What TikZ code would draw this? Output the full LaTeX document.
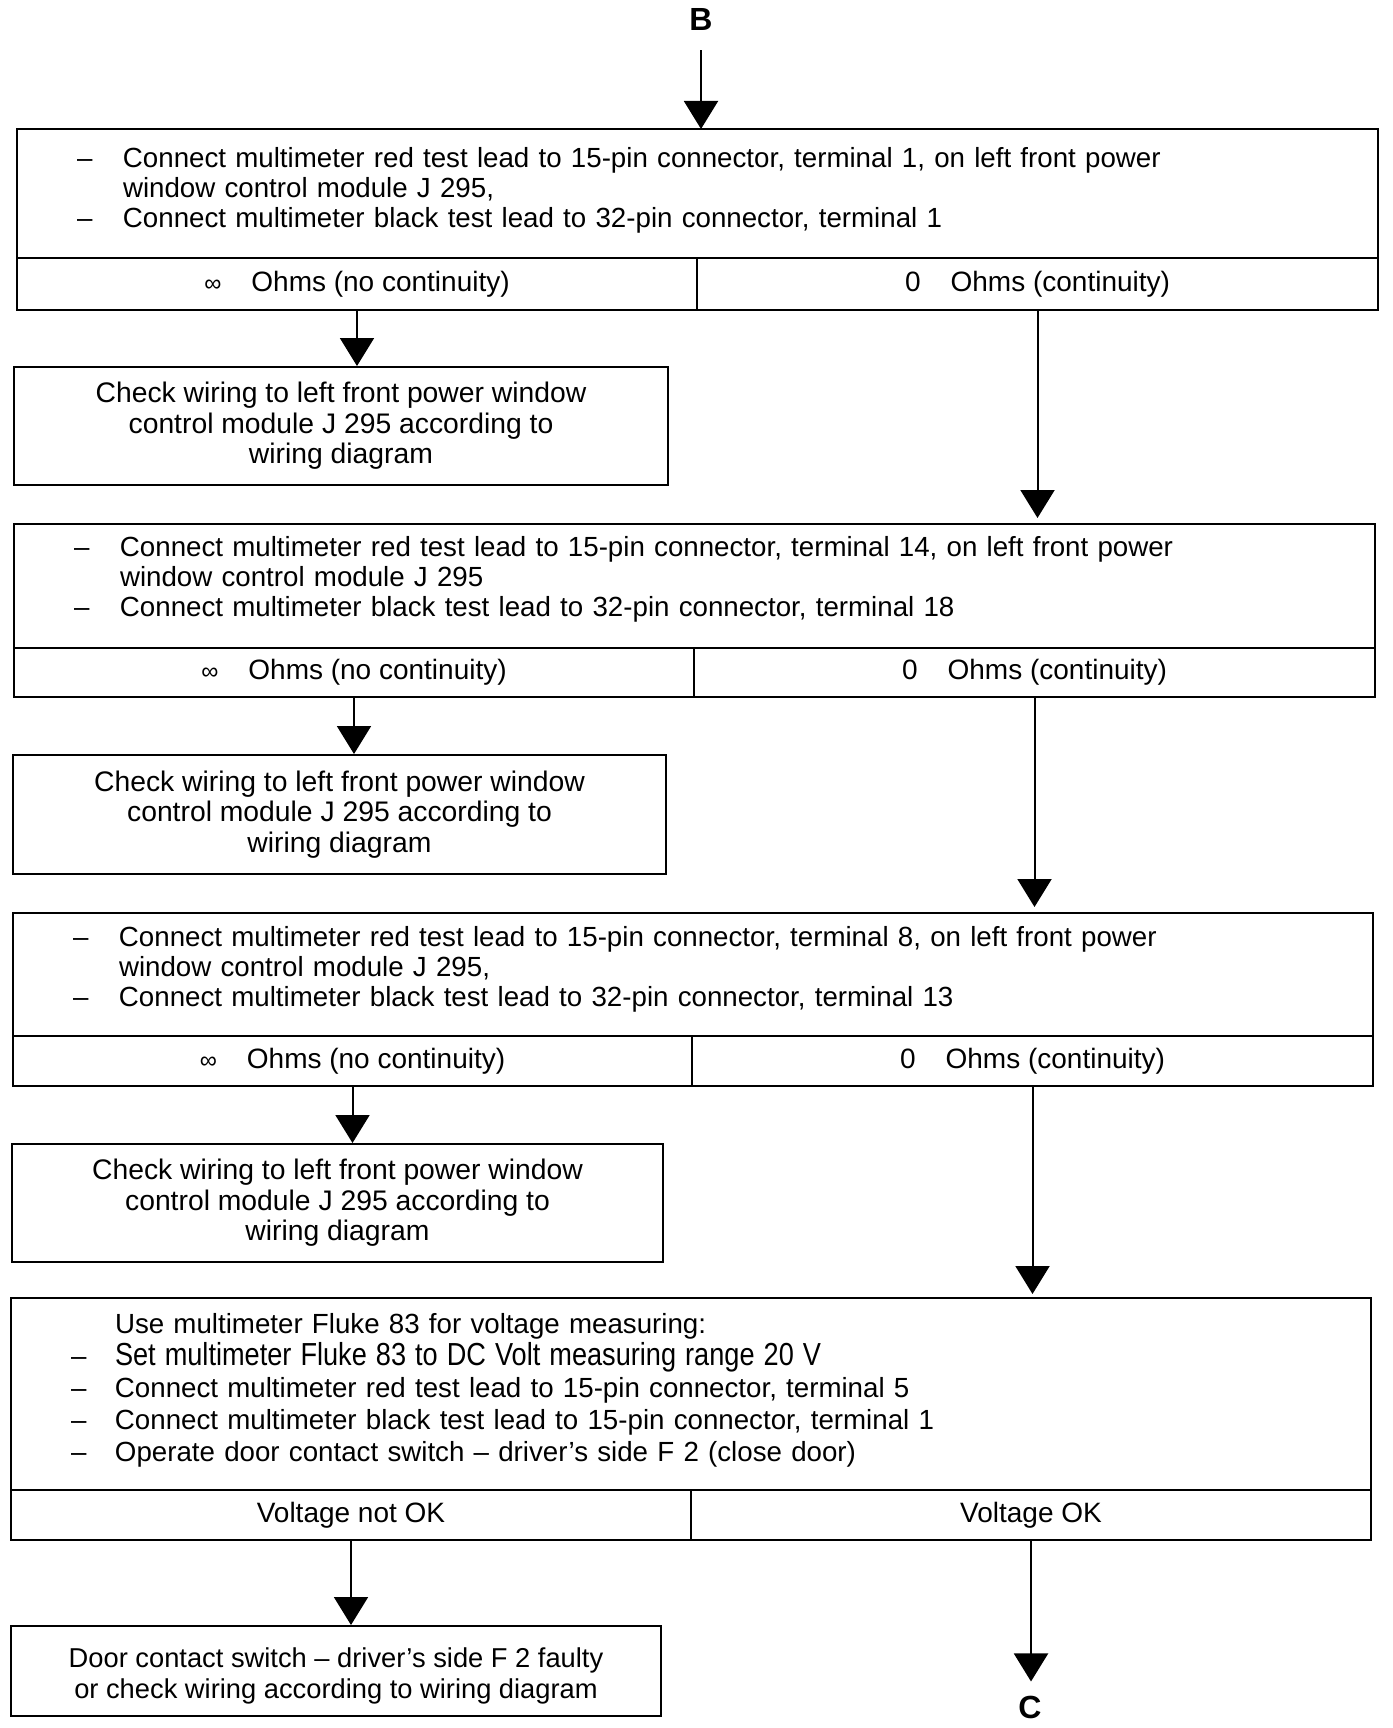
\documentclass[tikz,border=0pt]{standalone}
\usepackage{fontspec}
\setmainfont{Liberation Sans}
\usetikzlibrary{arrows.meta}
\newcommand{\infohm}{{\fontsize{24}{24}\selectfont ∞}\hspace{30pt}}
\newcommand{\zerohm}{0\hspace{30pt}}
\begin{document}
\begin{tikzpicture}[x=1pt,y=-1pt,
  frame/.style={draw, line width=2.8pt, rectangle, anchor=north west, inner sep=0pt, outer sep=0pt},
  topbox/.style={frame, inner xsep=60pt, align=left, font=\fontsize{27.7}{30}\selectfont},
  cell/.style={frame, align=center, font=\fontsize{28}{30}\selectfont},
  checkbox/.style={frame, align=center, font=\fontsize{28.3}{30.5}\selectfont},
  letter/.style={inner sep=0pt, font=\fontsize{32}{32}\selectfont\bfseries},
  arr/.style={line width=2pt, -{Triangle[length=28pt,width=34pt]}}
]
\useasboundingbox (0,0) rectangle (1392,1728);

% B
\node[letter] (B) at (701,19) {B};

% Box 1
\node[topbox, minimum width=1361pt, minimum height=129pt, text width=1241pt] (t1) at (17,129)
 {\begin{tabular}{@{}p{46pt}@{}l@{}}
 – & Connect multimeter red test lead to 15-pin connector, terminal 1, on left front power\\
   & window control module J 295,\\
 – & Connect multimeter black test lead to 32-pin connector, terminal 1\\[4pt]
 \end{tabular}};
\node[cell, minimum width=680pt, minimum height=52pt] (l1) at (17,258) {\infohm Ohms (no continuity)};
\node[cell, minimum width=681pt, minimum height=52pt] (r1) at (697,258) {\zerohm Ohms (continuity)};

\node[checkbox, minimum width=654pt, minimum height=118pt] (c1) at (14,367)
 {Check wiring to left front power window\\control module J 295 according to\\wiring diagram};

% Box 2
\node[topbox, minimum width=1361pt, minimum height=124pt, text width=1241pt] (t2) at (14,524)
 {\begin{tabular}{@{}p{46pt}@{}l@{}}
 – & Connect multimeter red test lead to 15-pin connector, terminal 14, on left front power\\
   & window control module J 295\\
 – & Connect multimeter black test lead to 32-pin connector, terminal 18\\[11pt]
 \end{tabular}};
\node[cell, minimum width=680pt, minimum height=49pt] (l2) at (14,648) {\infohm Ohms (no continuity)};
\node[cell, minimum width=681pt, minimum height=49pt] (r2) at (694,648) {\zerohm Ohms (continuity)};

\node[checkbox, minimum width=653pt, minimum height=119pt] (c2) at (13,755)
 {Check wiring to left front power window\\control module J 295 according to\\wiring diagram};

% Box 3
\node[topbox, minimum width=1360pt, minimum height=123pt, text width=1240pt] (t3) at (13,913)
 {\begin{tabular}{@{}p{46pt}@{}l@{}}
 – & Connect multimeter red test lead to 15-pin connector, terminal 8, on left front power\\
   & window control module J 295,\\
 – & Connect multimeter black test lead to 32-pin connector, terminal 13\\[9pt]
 \end{tabular}};
\node[cell, minimum width=679pt, minimum height=50pt] (l3) at (13,1036) {\infohm Ohms (no continuity)};
\node[cell, minimum width=681pt, minimum height=50pt] (r3) at (692,1036) {\zerohm Ohms (continuity)};

\node[checkbox, minimum width=651pt, minimum height=118pt] (c3) at (12,1144)
 {Check wiring to left front power window\\control module J 295 according to\\wiring diagram};

% Box 4
\node[topbox, minimum width=1360pt, minimum height=192pt, text width=1240pt,
      font=\fontsize{27.7}{32}\selectfont] (t4) at (11,1298)
 {\begin{tabular}{@{}p{44pt}@{}l@{}}
   & Use multimeter Fluke 83 for voltage measuring:\\
 – & \scalebox{0.98}[1.15]{Set multimeter Fluke 83 to DC Volt measuring range 20 V}\\
 – & Connect multimeter red test lead to 15-pin connector, terminal 5\\
 – & Connect multimeter black test lead to 15-pin connector, terminal 1\\
 – & Operate door contact switch – driver’s side F 2 (close door)\\[6pt]
 \end{tabular}};
\node[cell, minimum width=680pt, minimum height=50pt] (l4) at (11,1490) {Voltage not OK};
\node[cell, minimum width=680pt, minimum height=50pt] (r4) at (691,1490) {Voltage OK};

\node[checkbox, minimum width=650pt, minimum height=90pt, font=\fontsize{27.3}{30.5}\selectfont] (d) at (11,1626)
 {\rule{0pt}{30pt}Door contact switch – driver’s side F 2 faulty\\or check wiring according to wiring diagram};

% C
\node[letter] (C) at (1030,1707) {C};

% connectors
\draw[arr, shorten <=20pt] (B.south) -- (B.south |- t1.north);
\draw[arr, shorten >=1pt] (l1.south) -- (l1.south |- c1.north);
\draw[arr, shorten >=6pt] (r1.south) -- (r1.south |- t2.north);
\draw[arr, shorten >=1pt] (l2.south) -- (l2.south |- c2.north);
\draw[arr, shorten >=6pt] (r2.south) -- (r2.south |- t3.north);
\draw[arr, shorten >=1pt] (l3.south) -- (l3.south |- c3.north);
\draw[arr, shorten >=4pt] (r3.south) -- (r3.south |- t4.north);
\draw[arr, shorten >=1pt] (l4.south) -- (l4.south |- d.north);
\draw[arr, shorten >=14pt] (r4.south) -- (r4.south |- C.north);
\end{tikzpicture}
\end{document}
